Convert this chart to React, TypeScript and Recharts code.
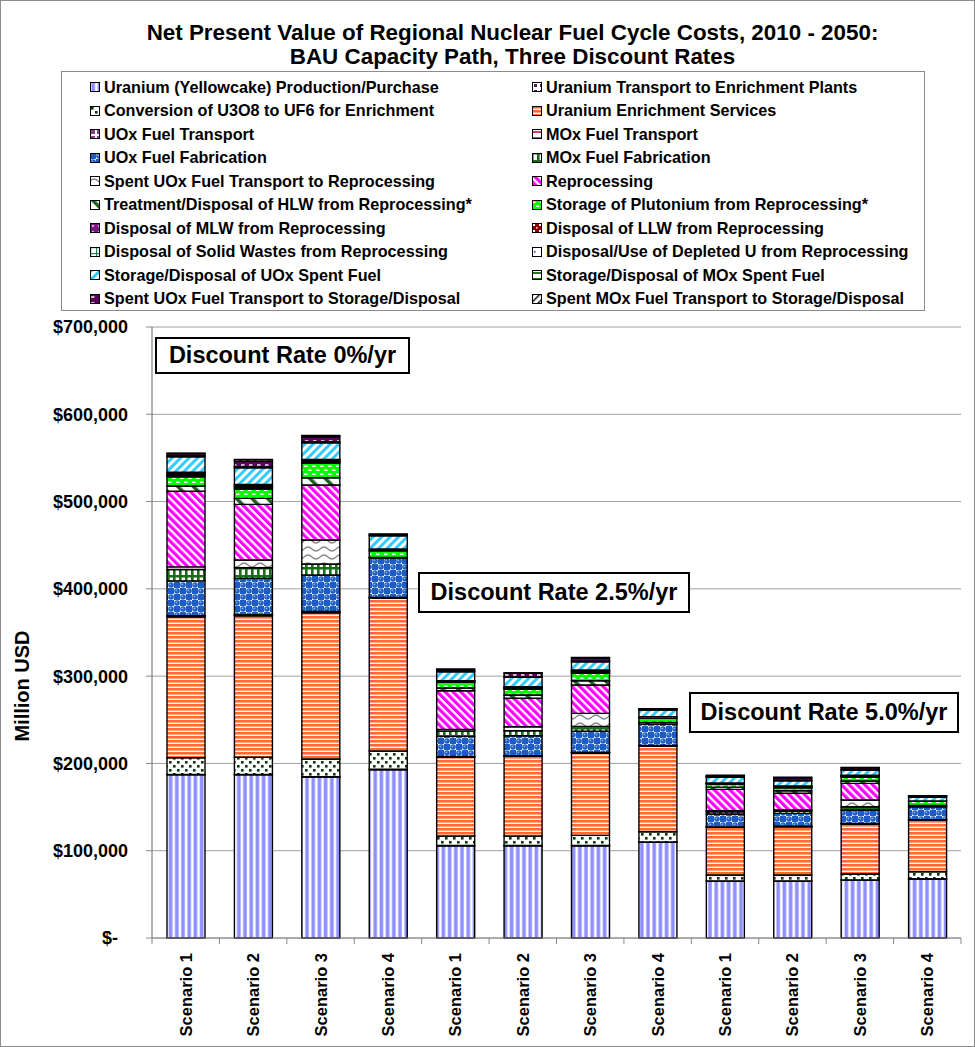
import React from 'react';
import { BarChart, Bar, XAxis, YAxis, CartesianGrid } from 'recharts';

const categories = [
  'Scenario 1', 'Scenario 2', 'Scenario 3', 'Scenario 4',
  'Scenario 1', 'Scenario 2', 'Scenario 3', 'Scenario 4',
  'Scenario 1', 'Scenario 2', 'Scenario 3', 'Scenario 4',
];

const yTicks = [0, 100000, 200000, 300000, 400000, 500000, 600000, 700000];

const seriesNames = [
  'Uranium (Yellowcake) Production/Purchase',
  'Uranium Transport to Enrichment Plants',
  'Conversion of U3O8 to UF6 for Enrichment',
  'Uranium Enrichment Services',
  'UOx Fuel Transport',
  'MOx Fuel Transport',
  'UOx Fuel Fabrication',
  'MOx Fuel Fabrication',
  'Spent UOx Fuel Transport to Reprocessing',
  'Reprocessing',
  'Treatment/Disposal of HLW from Reprocessing*',
  'Storage of Plutonium from Reprocessing*',
  'Disposal of MLW from Reprocessing',
  'Disposal of LLW from Reprocessing',
  'Disposal of Solid Wastes from Reprocessing',
  'Disposal/Use of Depleted U from Reprocessing',
  'Storage/Disposal of UOx Spent Fuel',
  'Storage/Disposal of MOx Spent Fuel',
  'Spent UOx Fuel Transport to Storage/Disposal',
  'Spent MOx Fuel Transport to Storage/Disposal',
];

// Million USD, one value per category (0%: S1-S4, 2.5%: S1-S4, 5.0%: S1-S4)
const yellowcake = [187000, 187000, 184400, 192800, 105700, 105700, 105700, 109600, 65300, 65300, 66400, 67600];
const uTransport = [500, 500, 500, 500, 300, 300, 300, 300, 200, 200, 200, 200];
const conversion = [19000, 19500, 20100, 20900, 10800, 10800, 11600, 11900, 6700, 6700, 6700, 8100];
const enrichment = [161500, 162200, 167600, 174900, 90500, 91300, 94300, 98100, 54600, 55300, 57300, 59300];
const uoxTransport = [800, 800, 800, 1000, 500, 500, 500, 600, 300, 300, 300, 400];
const moxTransport = [400, 500, 600, 0, 200, 300, 300, 0, 200, 200, 200, 0];
const uoxFab = [40000, 41500, 41800, 45200, 23000, 22800, 24100, 24600, 14700, 14800, 15500, 14800];
const moxFab = [13000, 12200, 12600, 0, 6100, 5800, 5700, 0, 2500, 2400, 3800, 0];
const spentToReproc = [3000, 8800, 27500, 0, 1900, 4500, 14900, 0, 1300, 1400, 7700, 0];
const reprocessing = [86800, 63800, 63000, 0, 44300, 32600, 32400, 0, 24500, 19200, 19100, 0];
const hlw = [5800, 6900, 8400, 800, 3100, 3800, 4900, 1900, 2500, 2900, 2600, 1500];
const plutonium = [10600, 10600, 16500, 7500, 6500, 6500, 8500, 4700, 3600, 3500, 4300, 5000];
const mlw = [1500, 1500, 1300, 0, 500, 800, 1000, 0, 300, 500, 600, 0];
const llw = [1200, 1300, 1100, 0, 400, 700, 900, 0, 300, 400, 600, 0];
const solidWaste = [1500, 1500, 1300, 0, 500, 800, 1000, 0, 300, 500, 600, 0];
const depletedU = [1000, 1100, 900, 2000, 400, 700, 900, 1900, 200, 500, 500, 0];
const uoxStorage = [17700, 19000, 19000, 15200, 10300, 10700, 9500, 7600, 6600, 6100, 6000, 4200];
const moxStorage = [1200, 1200, 1200, 0, 700, 600, 600, 0, 400, 400, 400, 0];
const uoxToStorage = [2500, 6500, 5700, 1500, 1800, 4000, 3400, 1200, 1500, 2800, 2200, 1500];
const moxToStorage = [500, 1900, 1500, 500, 600, 800, 800, 300, 400, 700, 500, 400];

const seriesValues = [
  yellowcake, uTransport, conversion, enrichment, uoxTransport, moxTransport,
  uoxFab, moxFab, spentToReproc, reprocessing, hlw, plutonium, mlw, llw,
  solidWaste, depletedU, uoxStorage, moxStorage, uoxToStorage, moxToStorage,
];

const data = categories.map((name, i) => {
  const row: Record<string, any> = { name };
  seriesValues.forEach((arr, k) => {
    row['s' + k] = arr[i];
  });
  return row;
});

const FONT = '"Liberation Sans", Arial, Helvetica, sans-serif';

const Patterns = () => (
  <svg width={0} height={0} style={{ position: 'absolute' }}>
    <defs>
      <pattern id="p0" patternUnits="userSpaceOnUse" width={6.2} height={10}>
        <rect width={6.2} height={10} fill="#fff" />
        <rect x={1.4} width={3.6} height={10} fill="#8f8fff" />
      </pattern>
      <pattern id="p1" patternUnits="userSpaceOnUse" width={6} height={6}>
        <rect width={6} height={6} fill="#fff" />
        <rect x={2} y={2} width={3} height={3} fill="#5a1a5a" />
      </pattern>
      <pattern id="p2" patternUnits="userSpaceOnUse" width={8} height={8}>
        <rect width={8} height={8} fill="#fff" />
        <rect x={1} y={1} width={2.6} height={2.6} fill="#0b3a0b" />
        <rect x={5} y={5} width={2.6} height={2.6} fill="#0b3a0b" />
      </pattern>
      <pattern id="p3" patternUnits="userSpaceOnUse" width={10} height={4}>
        <rect width={10} height={4} fill="#fff" />
        <rect y={0} width={10} height={2.6} fill="#ff6a33" />
      </pattern>
      <pattern id="p4" patternUnits="userSpaceOnUse" width={6} height={6}>
        <rect width={6} height={6} fill="#fff" />
        <rect x={1} y={1} width={4} height={4} fill="#8a3b8a" />
      </pattern>
      <pattern id="p5" patternUnits="userSpaceOnUse" width={6} height={6}>
        <rect width={6} height={6} fill="#fff" />
        <rect y={2} width={6} height={2} fill="#d04060" />
      </pattern>
      <pattern id="p6" patternUnits="userSpaceOnUse" width={12} height={12}>
        <rect width={12} height={12} fill="#fff" />
        <rect x={0} y={0} width={6} height={6} fill="#1d5cc4" />
        <rect x={6} y={6} width={6} height={6} fill="#1d5cc4" />
        <circle cx={9} cy={3} r={2.8} fill="#1d5cc4" />
        <circle cx={3} cy={9} r={2.8} fill="#1d5cc4" />
        <circle cx={8.4} cy={2.4} r={0.9} fill="#8fb0ee" />
        <circle cx={2.4} cy={8.4} r={0.9} fill="#8fb0ee" />
      </pattern>
      <pattern id="p7" patternUnits="userSpaceOnUse" width={6} height={8}>
        <rect width={6} height={8} fill="#1a6b1a" />
        <rect x={1.6} y={1.5} width={3.4} height={5.5} fill="#fff" />
      </pattern>
      <pattern id="p8" patternUnits="userSpaceOnUse" width={16} height={8}>
        <rect width={16} height={8} fill="#fff" />
        <path d="M0 5 Q4 1 8 5 T16 5" fill="none" stroke="#8a8a8a" strokeWidth={1.4} />
      </pattern>
      <pattern id="p9" patternUnits="userSpaceOnUse" width={5.5} height={5.5} patternTransform="rotate(-45)">
        <rect width={5.5} height={5.5} fill="#fff" />
        <rect width={3.2} height={5.5} fill="#ff00ff" />
      </pattern>
      <pattern id="p10" patternUnits="userSpaceOnUse" width={11} height={11} patternTransform="rotate(-45)">
        <rect width={11} height={11} fill="#fff" />
        <rect width={3.5} height={11} fill="#1e5e1e" />
      </pattern>
      <pattern id="p11" patternUnits="userSpaceOnUse" width={8} height={8}>
        <rect width={8} height={8} fill="#00ff00" />
        <rect x={0} y={1.5} width={3.5} height={1.5} fill="#fff" />
        <rect x={4} y={5.5} width={3.5} height={1.5} fill="#fff" />
      </pattern>
      <pattern id="p12" patternUnits="userSpaceOnUse" width={6} height={6}>
        <rect width={6} height={6} fill="#7a1a7a" />
        <rect x={2} y={2} width={2} height={2} fill="#d9a0d9" />
      </pattern>
      <pattern id="p13" patternUnits="userSpaceOnUse" width={6} height={6}>
        <rect width={6} height={6} fill="#8b0000" />
        <rect x={1} y={1} width={2} height={2} fill="#fff" />
        <rect x={4} y={4} width={1.5} height={1.5} fill="#fff" />
      </pattern>
      <pattern id="p14" patternUnits="userSpaceOnUse" width={6} height={6}>
        <rect width={6} height={6} fill="#fff" />
        <rect width={6} height={1.2} fill="#2e7b5e" />
        <rect width={1.2} height={6} fill="#2e7b5e" />
      </pattern>
      <pattern id="p15" patternUnits="userSpaceOnUse" width={8} height={8}>
        <rect width={8} height={8} fill="#fff" />
        <rect x={2} y={4} width={1.5} height={1.5} fill="#2030c0" />
      </pattern>
      <pattern id="p16" patternUnits="userSpaceOnUse" width={6} height={6} patternTransform="rotate(45)">
        <rect width={6} height={6} fill="#fff" />
        <rect width={3} height={6} fill="#33ccff" />
      </pattern>
      <pattern id="p17" patternUnits="userSpaceOnUse" width={6} height={6}>
        <rect width={6} height={6} fill="#fff" />
        <rect y={2} width={6} height={2} fill="#1a7a1a" />
      </pattern>
      <pattern id="p18" patternUnits="userSpaceOnUse" width={8} height={6}>
        <rect width={8} height={6} fill="#5c005c" />
        <rect x={1} y={2.3} width={3.5} height={1.4} fill="#fff" />
      </pattern>
      <pattern id="p19" patternUnits="userSpaceOnUse" width={5} height={5} patternTransform="rotate(45)">
        <rect width={5} height={5} fill="#fff" />
        <rect width={1.6} height={5} fill="#222" />
      </pattern>
    </defs>
  </svg>
);

const fmtY = (v: number) => (v === 0 ? '$-' : '$' + v.toLocaleString('en-US'));

const YTick = (props: any) => {
  const { x, y, payload } = props;
  const v = payload.value as number;
  return (
    <text
      x={v === 0 ? x - 10 : x}
      y={y}
      dy="0.36em"
      textAnchor="end"
      fontFamily={FONT}
      fontWeight="bold"
      fontSize={18}
      fill="#000"
    >
      {fmtY(v)}
    </text>
  );
};

const XTick = (props: any) => {
  const { x, y, payload, index } = props;
  const half = payload && payload.offset ? payload.offset : 33.7;
  const axisY = y - 15;
  return (
    <g>
      <line x1={x - half} y1={axisY} x2={x - half} y2={axisY + 6} stroke="#888" />
      {index === categories.length - 1 && (
        <line x1={x + half} y1={axisY} x2={x + half} y2={axisY + 6} stroke="#888" />
      )}
      <text
        transform={`translate(${x},${y}) rotate(-90)`}
        textAnchor="end"
        dominantBaseline="central"
        fontFamily={FONT}
        fontWeight="bold"
        fontSize={16.5}
        fill="#000"
      >
        {payload.value}
      </text>
    </g>
  );
};

const boxStyle: React.CSSProperties = {
  position: 'absolute',
  boxSizing: 'border-box',
  border: '2px solid #000',
  background: '#fff',
  fontFamily: FONT,
  fontWeight: 'bold',
  fontSize: 23.5,
  color: '#000',
  display: 'flex',
  alignItems: 'center',
  justifyContent: 'center',
  whiteSpace: 'nowrap',
};

export default function App() {
  const leftItems = seriesNames.map((n, i) => ({ n, i })).filter((d) => d.i % 2 === 0);
  const rightItems = seriesNames.map((n, i) => ({ n, i })).filter((d) => d.i % 2 === 1);
  const legendRow = (item: { n: string; i: number }, row: number, col: number) => (
    <div
      key={item.i}
      style={{
        position: 'absolute',
        left: col === 0 ? 28 : 470,
        top: 15 + row * 23.55 - 10,
        height: 20,
        display: 'flex',
        alignItems: 'center',
        whiteSpace: 'nowrap',
      }}
    >
      <svg width={10} height={10} style={{ marginRight: 4, flex: 'none' }}>
        <rect x={0.5} y={0.5} width={9} height={9} fill={`url(#p${item.i})`} stroke="#000" strokeWidth={1} />
      </svg>
      <span>{item.n}</span>
    </div>
  );

  return (
    <div
      style={{
        position: 'absolute',
        left: 0,
        top: 0,
        width: 975,
        height: 1047,
        background: '#fff',
        overflow: 'hidden',
        fontFamily: FONT,
      }}
    >
      <Patterns />
      <div
        style={{
          position: 'absolute',
          left: 50,
          top: 21,
          width: 925,
          textAlign: 'center',
          fontWeight: 'bold',
          fontSize: 22.4,
          lineHeight: '24px',
          color: '#000',
        }}
      >
        Net Present Value of Regional Nuclear Fuel Cycle Costs, 2010 - 2050:
        <br />
        BAU Capacity Path, Three Discount Rates
      </div>

      <div
        style={{
          position: 'absolute',
          left: 61,
          top: 71,
          width: 864,
          height: 240,
          boxSizing: 'border-box',
          border: '1px solid #8c8c8c',
          fontWeight: 'bold',
          fontSize: 16.2,
          color: '#000',
        }}
      >
        {leftItems.map((it, r) => legendRow(it, r, 0))}
        {rightItems.map((it, r) => legendRow(it, r, 1))}
      </div>

      <div style={{ position: 'absolute', left: 0, top: 0 }}>
        <BarChart
          width={975}
          height={1047}
          data={data}
          margin={{ top: 327, right: 14, bottom: 0, left: 0 }}
          barSize={38}
        >
          <CartesianGrid vertical={false} stroke="#a0a0a0" />
          <XAxis
            dataKey="name"
            interval={0}
            height={109}
            tickLine={false}
            tickSize={0}
            tickMargin={15}
            axisLine={{ stroke: '#888' }}
            tick={<XTick />}
          />
          <YAxis
            type="number"
            domain={[0, 700000]}
            ticks={yTicks}
            interval={0}
            width={152}
            tickSize={6}
            tickMargin={18}
            tickLine={{ stroke: '#888' }}
            axisLine={{ stroke: '#666' }}
            tick={<YTick />}
          />
          {seriesNames.map((n, k) => (
            <Bar
              key={n}
              dataKey={'s' + k}
              name={n}
              stackId="a"
              fill={`url(#p${k})`}
              stroke="#000"
              strokeWidth={1.4}
              isAnimationActive={false}
            />
          ))}
        </BarChart>
      </div>

      <div
        style={{
          position: 'absolute',
          left: 0,
          top: 686,
          width: 0,
          height: 0,
        }}
      >
        <div
          style={{
            position: 'absolute',
            left: 22,
            top: 0,
            transform: 'translate(-50%, -50%) rotate(-90deg)',
            fontWeight: 'bold',
            fontSize: 20,
            whiteSpace: 'nowrap',
            color: '#000',
          }}
        >
          Million USD
        </div>
      </div>

      <div style={{ ...boxStyle, left: 155, top: 337, width: 255, height: 37 }}>Discount Rate 0%/yr</div>
      <div style={{ ...boxStyle, left: 418, top: 572, width: 272, height: 41 }}>Discount Rate 2.5%/yr</div>
      <div style={{ ...boxStyle, left: 689, top: 692, width: 270, height: 41 }}>Discount Rate 5.0%/yr</div>

      <div
        style={{
          position: 'absolute',
          left: 0,
          top: 0,
          width: 975,
          height: 1047,
          boxSizing: 'border-box',
          border: '1px solid #8c8c8c',
          pointerEvents: 'none',
        }}
      />
    </div>
  );
}
